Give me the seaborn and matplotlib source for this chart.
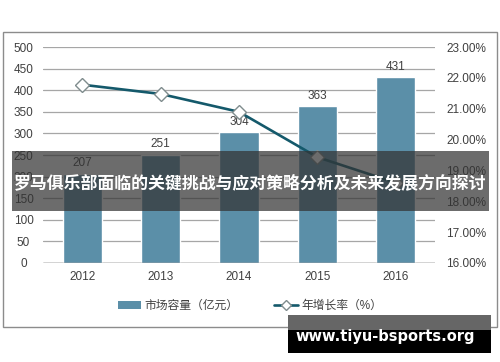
import numpy as np
import pandas as pd
import matplotlib
matplotlib.use("Agg")
import matplotlib.pyplot as plt
from matplotlib.patches import Rectangle, Patch
from matplotlib.lines import Line2D
import seaborn as sns

# data
years = ["2012", "2013", "2014", "2015", "2016"]
market_size = [207, 251, 304, 363, 431]          # 市场容量（亿元）
growth_rate = [21.78, 21.48, 20.90, 19.43, 18.60]  # 年增长率（%）
left_ticks = [0, 50, 100, 150, 200, 250, 300, 350, 400, 450, 500]
right_ticks = [16, 17, 18, 19, 20, 21, 22, 23]

title_text = "罗马俱乐部面临的关键挑战与应对策略分析及未来发展方向探讨"
watermark = "www.tiyu-bsports.org"

sns.set_theme(style="white")
plt.rcParams['font.family'] = ['Liberation Sans', 'Noto Sans CJK SC', 'DejaVu Sans']

bar_color = "#5b8fa8"
line_color = "#14596b"
txt_color = "#404040"

df = pd.DataFrame({"year": years, "size": market_size, "rate": growth_rate})

fig = plt.figure(figsize=(5, 3.62), dpi=100)
ax = fig.add_axes([0.086, 0.2735, 0.784, 0.5965])

sns.barplot(data=df, x="year", y="size", color=bar_color, width=0.5,
            saturation=1, ax=ax, zorder=2)
ax.set_ylim(0, 500)
ax.set_yticks(left_ticks)
ax.yaxis.grid(True, color="#a6a6a6", linewidth=0.9, zorder=0)
ax.set_axisbelow(True)
for s in ax.spines.values():
    s.set_visible(False)
ax.axhline(0, color="#595959", linewidth=1.0, zorder=3)
ax.set_xlabel("")
ax.set_ylabel("")
ax.tick_params(axis="both", length=0, labelsize=8.5, labelcolor=txt_color)
ax.tick_params(axis="y", pad=14)
ax.tick_params(axis="x", pad=6)
for lbl in ax.get_yticklabels():
    lbl.set_horizontalalignment("center")
ax.bar_label(ax.containers[0], labels=[str(v) for v in market_size],
             padding=3, fontsize=8.5, color=txt_color)

# growth rate on the right axis
ax2 = ax.twinx()
sns.pointplot(data=df, x="year", y="rate", color=line_color, ax=ax2,
              markers="D", linewidth=1.9, markersize=7,
              markerfacecolor="white", markeredgecolor="#7f8c8d",
              markeredgewidth=1.0, errorbar=None, zorder=4)
ax2.set_ylim(16, 23)
ax2.set_yticks(right_ticks)
ax2.set_yticklabels([f"{v:.2f}%" for v in right_ticks])
ax2.set_ylabel("")
for s in ax2.spines.values():
    s.set_visible(False)
ax2.tick_params(axis="y", length=0, labelsize=8.5, labelcolor=txt_color, pad=8)
ax.set_xlim(-0.5, 4.5)

# legend
handles = [Patch(facecolor=bar_color, edgecolor="none"),
           Line2D([0], [0], color=line_color, linewidth=1.9, marker="D",
                  markersize=5, markerfacecolor="white",
                  markeredgecolor="#7f8c8d")]
fig.legend(handles, ["市场容量（亿元）", "年增长率（%）"], loc="center",
           bbox_to_anchor=(0.5, 1 - 306 / 362), ncol=2, frameon=False,
           fontsize=8.5, labelcolor=txt_color, handlelength=2.0,
           columnspacing=3.0, handletextpad=0.3)

# outer border
fig.patches.append(Rectangle((3 / 500, 1 - 327 / 362), 494 / 500, 295 / 362,
                             transform=fig.transFigure, fill=False,
                             edgecolor="#8c8c8c", linewidth=1.0))

# title banner
fig.patches.append(Rectangle((12 / 500, 1 - 211 / 362), 477 / 500, 60 / 362,
                             transform=fig.transFigure, facecolor="#333333",
                             alpha=0.72, edgecolor="none", zorder=10))
fig.text(0.5, 1 - 184 / 362, title_text, ha="center", va="center",
         color="white", fontsize=12.2, fontweight="bold",
         family=["Noto Sans CJK SC", "DejaVu Sans"], zorder=11)

# watermark box
fig.patches.append(Rectangle((288 / 500, 1 - 330 / 362), 203 / 500, 15 / 362,
                             transform=fig.transFigure, facecolor="#666666",
                             edgecolor="none", zorder=10))
fig.patches.append(Rectangle((288 / 500, 1 - 353 / 362), 203 / 500, 23 / 362,
                             transform=fig.transFigure, facecolor="black",
                             edgecolor="none", zorder=10))
fig.text(385 / 500, 1 - 337 / 362, watermark, ha="center", va="center",
         color="white", fontsize=10.5, fontweight="bold",
         family=["DejaVu Sans"], zorder=11)

fig.savefig("out.png", dpi=100)
